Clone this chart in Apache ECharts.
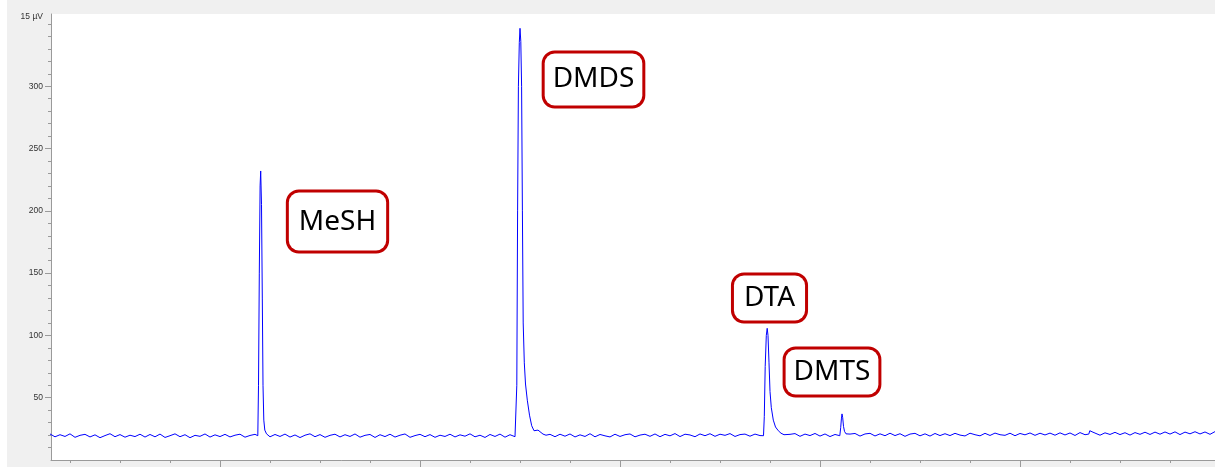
<!DOCTYPE html>
<html>
<head>
<meta charset="utf-8">
<script src="https://cdn.jsdelivr.net/npm/echarts@6/dist/echarts.min.js"></script>
<style>
  html, body { margin: 0; padding: 0; background: #ffffff; }
  #chart { width: 1215px; height: 467px; }
</style>
</head>
<body>
<div id="chart"></div>
<script>
// ---------- DATA ----------
// retention time (min) of first baseline sample and sample spacing
const baselineStart = 0.15;
const baselineStep = 0.025;
// baseline signal (µV)
const baselineValues = [
  20.9,18.6,20.3,18.9,21.0,18.2,19.8,20.6,18.5,20.2,17.9,19.6,21.1,18.7,20.4,18.3,19.9,18.8,20.7,18.4,
  20.5,18.6,20.8,18.1,19.5,21.0,18.7,20.3,17.9,19.8,19.0,20.9,18.4,20.2,18.8,20.6,18.5,19.9,20.7,18.3,
  19.7,20.6,19.5,19.5,18.6,20.5,18.9,20.8,18.4,20.1,18.0,19.9,21.0,18.7,20.4,18.2,19.8,20.7,18.5,20.3,
  18.9,20.9,18.3,19.8,20.5,18.1,20.3,18.8,20.7,18.4,19.9,20.9,18.2,19.6,20.6,18.7,20.4,18.2,19.9,18.9,
  20.7,18.5,20.2,19.1,21.0,18.6,19.9,18.1,20.5,18.9,20.8,18.3,20.3,18.7,19.9,19.2,20.6,20.0,21.0,19.1,
  20.6,18.7,20.7,19.1,20.9,18.5,20.2,18.9,21.1,18.6,20.5,19.4,18.5,20.7,18.9,20.3,20.9,18.6,20.0,20.7,
  19.0,20.9,18.7,20.6,19.4,21.2,18.8,20.7,20.1,18.7,20.9,19.5,21.1,19.0,20.7,19.8,21.2,18.9,20.4,20.8,
  19.1,20.8,19.6,18.9,21.1,19.4,20.9,18.9,20.6,21.2,19.0,20.8,19.6,21.3,19.2,20.9,18.8,20.5,21.0,19.4,
  20.8,21.3,19.2,20.9,21.4,19.3,21.0,19.5,21.5,19.6,21.1,19.0,20.8,21.4,19.4,21.0,19.2,21.3,19.6,21.1,
  19.6,21.4,20.0,19.3,21.5,20.3,19.4,21.4,19.7,21.6,20.3,19.8,21.5,19.5,21.3,20.2,21.7,19.8,21.5,20.1,
  21.6,19.9,21.8,20.1,21.7,19.7,22.0,20.3,21.6,22.1,19.9,21.8,20.5,22.2,20.4,21.9,20.0,22.0,20.6,22.3,
  20.5,22.4,20.7,22.5,20.8,22.6,20.4,22.4,21.0,22.7,20.9,22.5,20.6,22.8,21.0,22.6,20.8,22.5,22.7,20.9
];
// peaks: [time (min), signal (µV)]
const peakMeSH = [
  [1.189,19.5],[1.1925,60],[1.1965,150],[1.2005,220],[1.2035,232],[1.2075,205],
  [1.2115,130],[1.215,60],[1.219,32],[1.224,24],[1.2325,21],[1.2425,20]
];
const peakDMDS = [
  [2.48,19.5],[2.484,60],[2.488,200],[2.492,300],[2.4965,335],[2.5,346.5],[2.504,336],
  [2.508,300],[2.512,200],[2.516,110],[2.5215,78],[2.5275,61],[2.5365,48],[2.5475,36],
  [2.5585,27.5],[2.57,23.5],[2.58,22],[2.59,24],[2.6,22.5],[2.615,20.8],[2.63,19.9]
];
const peakDTA = [
  [3.7175,19.5],[3.7215,35],[3.726,75],[3.7315,100],[3.736,105.7],[3.74,100],[3.745,78],
  [3.75,55],[3.7565,42],[3.7665,32],[3.7775,26.5],[3.7915,23.5],[3.805,21.5],[3.82,20.3]
];
const peakDMTS = [
  [4.099,19.5],[4.1035,26],[4.107,33],[4.11,37],[4.1135,34],[4.1175,27],[4.1225,23],[4.13,21],[4.14,20]
];
const peakMinor = [
  [5.344,20.8],[5.349,23.5],[5.3535,24.8],[5.358,23.2],[5.365,22.3],[5.375,21.8]
];
const annotationNames = ['MeSH', 'DMDS', 'DTA', 'DMTS'];
const yTickLabels = [50, 100, 150, 200, 250, 300];
const yMinorTicks = [10,20,30,40,60,70,80,90,110,120,130,140,160,170,180,190,210,220,230,240,260,270,280,290,310,320,330,340,350];
const xMajorTicks = [1, 2, 3, 4, 5];
const xMinorTicks = [0.25,0.5,0.75,1.25,1.5,1.75,2.25,2.5,2.75,3.25,3.5,3.75,4.25,4.5,4.75,5.25,5.5,5.75];
const yUnitLabel = '15 µV';

// ---------- LAYOUT (annotation anchors in data space, box paddings) ----------
const annotationAnchors = [[1.5875, 191.4], [2.8675, 305.4], [3.7475, 130.0], [4.06, 70.6]];
const annotationPadding = [[14, 10], [11, 8], [7.5, 10], [7.5, 8]];

// ---------- BUILD SERIES ----------
const peaks = [peakMeSH, peakDMDS, peakDTA, peakDMTS, peakMinor];
const points = [];
baselineValues.forEach((v, i) => {
  const t = +(baselineStart + i * baselineStep).toFixed(4);
  const inPeak = peaks.some(p => t >= p[0][0] && t <= p[p.length - 1][0]);
  if (!inPeak) points.push([t, v]);
});
peaks.forEach(p => p.forEach(pt => points.push(pt)));
points.sort((a, b) => a[0] - b[0]);

const markData = annotationNames.map((n, i) => ({
  name: n,
  coord: annotationAnchors[i],
  label: { padding: [annotationPadding[i][0], annotationPadding[i][1]] }
}));

const chart = echarts.init(document.getElementById('chart'));
const axisGray = '#9a9a9a';
chart.setOption({
  animation: false,
  backgroundColor: '#f0f0f0',
  graphic: [{ type: 'rect', shape: { x: 0, y: 0, width: 7, height: 467 }, style: { fill: '#ffffff' }, z: -1 }],
  grid: { left: 51, right: 0, top: 14, bottom: 7, show: true, backgroundColor: '#ffffff', borderWidth: 0 },
  xAxis: [
    {
      type: 'value', min: 0.155, max: 5.975, position: 'bottom',
      axisLine: { show: true, lineStyle: { color: axisGray, width: 1 } },
      axisTick: { show: true, customValues: xMinorTicks, length: 3, lineStyle: { color: axisGray } },
      axisLabel: { show: false },
      splitLine: { show: false }
    },
    {
      type: 'value', min: 0.155, max: 5.975, position: 'bottom', offset: 0,
      axisLine: { show: false },
      axisTick: { show: true, customValues: xMajorTicks, length: 7, lineStyle: { color: axisGray } },
      axisLabel: { show: false },
      splitLine: { show: false }
    }
  ],
  yAxis: [
    {
      type: 'value', min: 0, max: 358, interval: 50, position: 'left',
      name: yUnitLabel, nameLocation: 'end', nameGap: -3,
      nameTextStyle: { align: 'right', verticalAlign: 'middle', padding: [0, 8, 0, 0], fontSize: 8.5, color: '#333', fontFamily: 'Liberation Sans' },
      axisLine: { show: true, lineStyle: { color: axisGray, width: 1 } },
      axisTick: { show: true, customValues: yTickLabels, length: 6, lineStyle: { color: axisGray } },
      axisLabel: { show: true, customValues: yTickLabels, fontSize: 8.5, color: '#333', margin: 8, fontFamily: 'Liberation Sans' },
      splitLine: { show: false }
    },
    {
      type: 'value', min: 0, max: 358, position: 'left', offset: 0,
      axisLine: { show: false },
      axisTick: { show: true, customValues: yMinorTicks, length: 3, lineStyle: { color: axisGray } },
      axisLabel: { show: false },
      splitLine: { show: false }
    }
  ],
  series: [{
    type: 'line',
    xAxisIndex: 0, yAxisIndex: 0,
    data: points,
    showSymbol: false,
    symbol: 'none',
    smooth: false,
    lineStyle: { color: '#0000ff', width: 1 },
    silent: true,
    markPoint: {
      symbol: 'circle', symbolSize: 0, silent: true,
      label: {
        show: true, position: 'inside', formatter: '{b}',
        fontFamily: 'Noto Sans', fontSize: 28, lineHeight: 30, color: '#000',
        backgroundColor: '#ffffff', borderColor: '#c00000', borderWidth: 3, borderRadius: 10
      },
      data: markData
    }
  }]
});
</script>
</body>
</html>
